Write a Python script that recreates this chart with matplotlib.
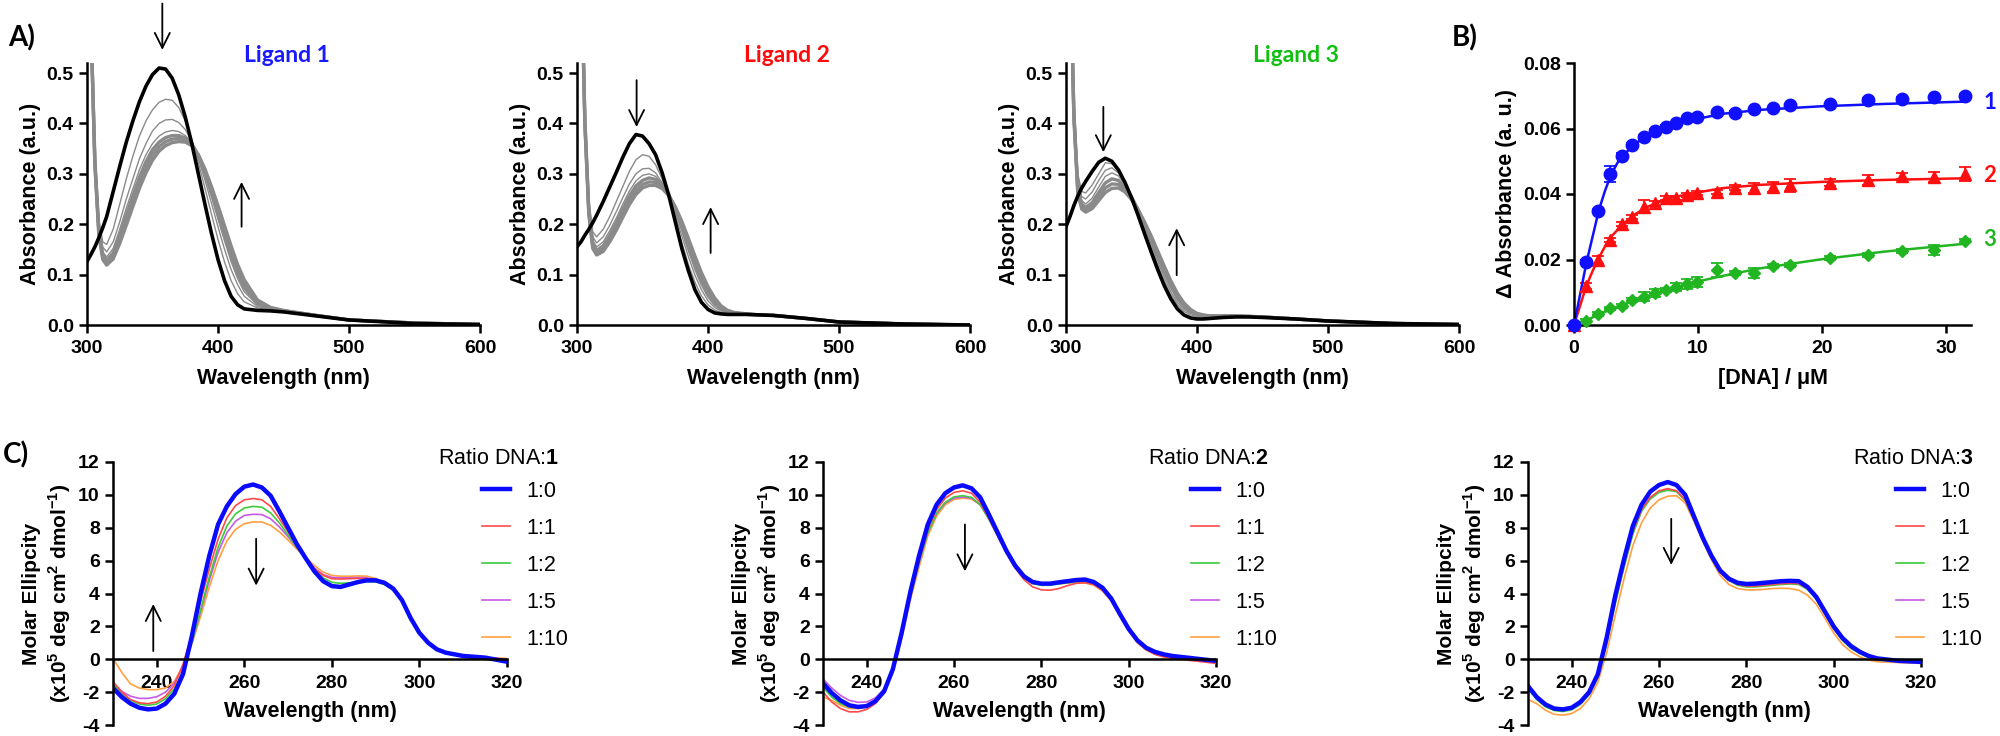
import matplotlib
matplotlib.use('Agg')
import matplotlib.pyplot as plt
from matplotlib.ticker import FormatStrFormatter

plt.rcParams['font.family'] = ['Liberation Sans', 'DejaVu Sans']
plt.rcParams['font.weight'] = 'bold'
plt.rcParams['axes.labelweight'] = 'bold'
plt.rcParams['axes.unicode_minus'] = False
plt.rcParams['mathtext.fontset'] = 'custom'
plt.rcParams['mathtext.rm'] = 'Liberation Sans'
plt.rcParams['mathtext.bf'] = 'Liberation Sans:bold'

# ---------------- data: UV-vis titrations (panel A) ----------------
wl_abs = [300, 303, 306, 309, 312, 315, 320, 325, 330, 335, 340, 345, 350, 355, 360, 365, 370,
          375, 380, 385, 390, 395, 400, 405, 410, 415, 420, 430, 440, 450, 475, 500, 550, 600]

abs1_free = [0.126, 0.14, 0.155, 0.173, 0.193, 0.215, 0.265, 0.315, 0.363, 0.405, 0.443, 0.474,
             0.497, 0.51, 0.508, 0.49, 0.457, 0.413, 0.36, 0.30, 0.24, 0.182, 0.13, 0.088, 0.057,
             0.04, 0.032, 0.029, 0.028, 0.026, 0.018, 0.01, 0.003, 0.001]
abs1_dna = [
    [0.95, 0.60, 0.34, 0.21, 0.165, 0.16, 0.19, 0.24, 0.29, 0.335, 0.375, 0.405, 0.427, 0.442, 0.448,
     0.446, 0.432, 0.405, 0.368, 0.322, 0.272, 0.22, 0.17, 0.125, 0.088, 0.062, 0.046, 0.034, 0.03,
     0.027, 0.019, 0.01, 0.004, 0.001],
    [0.95, 0.60, 0.34, 0.20, 0.155, 0.145, 0.165, 0.205, 0.25, 0.29, 0.33, 0.36, 0.385, 0.40, 0.407,
     0.408, 0.402, 0.388, 0.366, 0.33, 0.288, 0.242, 0.195, 0.15, 0.11, 0.08, 0.057, 0.037, 0.031,
     0.027, 0.019, 0.01, 0.004, 0.001],
    [0.95, 0.60, 0.33, 0.195, 0.145, 0.135, 0.152, 0.19, 0.232, 0.27, 0.308, 0.338, 0.36, 0.375, 0.383,
     0.386, 0.384, 0.376, 0.362, 0.334, 0.297, 0.255, 0.21, 0.167, 0.126, 0.092, 0.066, 0.04, 0.032,
     0.028, 0.019, 0.01, 0.004, 0.001],
    [0.95, 0.60, 0.33, 0.19, 0.14, 0.128, 0.143, 0.178, 0.218, 0.256, 0.293, 0.324, 0.348, 0.363, 0.372,
     0.376, 0.376, 0.371, 0.36, 0.336, 0.302, 0.262, 0.22, 0.178, 0.137, 0.102, 0.074, 0.043, 0.033,
     0.028, 0.019, 0.01, 0.004, 0.001],
    [0.95, 0.60, 0.32, 0.185, 0.135, 0.123, 0.137, 0.17, 0.208, 0.245, 0.282, 0.313, 0.338, 0.354, 0.364,
     0.369, 0.37, 0.367, 0.358, 0.337, 0.306, 0.268, 0.228, 0.187, 0.147, 0.111, 0.082, 0.047, 0.034,
     0.028, 0.019, 0.01, 0.004, 0.001],
    [0.95, 0.60, 0.32, 0.18, 0.13, 0.119, 0.131, 0.162, 0.198, 0.235, 0.271, 0.302, 0.327, 0.345, 0.356,
     0.362, 0.364, 0.363, 0.356, 0.338, 0.31, 0.275, 0.237, 0.197, 0.157, 0.12, 0.09, 0.05, 0.035,
     0.029, 0.019, 0.01, 0.004, 0.001],
]

abs2_free = [0.155, 0.165, 0.178, 0.19, 0.203, 0.218, 0.245, 0.274, 0.303, 0.333, 0.36, 0.378,
             0.375, 0.36, 0.338, 0.302, 0.258, 0.205, 0.152, 0.108, 0.07, 0.045, 0.031, 0.024, 0.022,
             0.021, 0.021, 0.021, 0.02, 0.019, 0.013, 0.006, 0.002, 0.0]
abs2_dna = [
    [0.95, 0.75, 0.42, 0.25, 0.185, 0.175, 0.19, 0.215, 0.245, 0.275, 0.305, 0.328, 0.338, 0.335, 0.318,
     0.29, 0.252, 0.208, 0.163, 0.12, 0.085, 0.058, 0.04, 0.03, 0.025, 0.023, 0.022, 0.021, 0.02,
     0.019, 0.013, 0.006, 0.002, 0.0],
    [0.95, 0.75, 0.42, 0.24, 0.175, 0.163, 0.175, 0.198, 0.225, 0.253, 0.28, 0.3, 0.31, 0.311, 0.302,
     0.282, 0.253, 0.217, 0.177, 0.136, 0.099, 0.07, 0.048, 0.035, 0.028, 0.024, 0.022, 0.021, 0.02,
     0.019, 0.013, 0.006, 0.002, 0.0],
    [0.95, 0.75, 0.41, 0.235, 0.168, 0.155, 0.165, 0.187, 0.212, 0.24, 0.266, 0.286, 0.297, 0.3, 0.295,
     0.28, 0.256, 0.224, 0.187, 0.147, 0.11, 0.079, 0.055, 0.039, 0.03, 0.025, 0.023, 0.021, 0.02,
     0.019, 0.013, 0.006, 0.002, 0.0],
    [0.95, 0.75, 0.41, 0.23, 0.162, 0.148, 0.157, 0.178, 0.203, 0.23, 0.256, 0.276, 0.287, 0.292, 0.289,
     0.278, 0.258, 0.229, 0.195, 0.157, 0.12, 0.088, 0.062, 0.044, 0.032, 0.026, 0.023, 0.021, 0.02,
     0.019, 0.013, 0.006, 0.002, 0.0],
    [0.95, 0.75, 0.40, 0.225, 0.156, 0.143, 0.151, 0.171, 0.195, 0.221, 0.247, 0.267, 0.279, 0.284, 0.283,
     0.275, 0.258, 0.233, 0.201, 0.165, 0.129, 0.096, 0.069, 0.049, 0.035, 0.027, 0.024, 0.021, 0.02,
     0.019, 0.013, 0.006, 0.002, 0.0],
    [0.95, 0.75, 0.40, 0.22, 0.152, 0.139, 0.146, 0.165, 0.188, 0.214, 0.239, 0.259, 0.272, 0.277, 0.277,
     0.271, 0.257, 0.235, 0.206, 0.172, 0.137, 0.104, 0.076, 0.054, 0.038, 0.029, 0.025, 0.022, 0.02,
     0.019, 0.013, 0.006, 0.002, 0.0],
]

abs3_free = [0.195, 0.215, 0.237, 0.256, 0.272, 0.285, 0.305, 0.323, 0.331, 0.325, 0.308, 0.283,
             0.253, 0.218, 0.181, 0.145, 0.11, 0.078, 0.052, 0.032, 0.02, 0.014, 0.012, 0.012, 0.013,
             0.014, 0.015, 0.016, 0.016, 0.015, 0.012, 0.008, 0.003, 0.001]
abs3_dna = [
    [0.95, 0.75, 0.45, 0.30, 0.265, 0.262, 0.278, 0.30, 0.322, 0.32, 0.305, 0.282, 0.254, 0.222, 0.188,
     0.153, 0.119, 0.087, 0.06, 0.04, 0.027, 0.02, 0.017, 0.016, 0.016, 0.016, 0.017, 0.017, 0.017,
     0.016, 0.012, 0.008, 0.003, 0.001],
    [0.95, 0.75, 0.44, 0.29, 0.255, 0.25, 0.264, 0.287, 0.307, 0.312, 0.302, 0.282, 0.256, 0.226, 0.194,
     0.16, 0.126, 0.094, 0.066, 0.045, 0.031, 0.023, 0.019, 0.017, 0.017, 0.017, 0.017, 0.017, 0.017,
     0.016, 0.012, 0.008, 0.003, 0.001],
    [0.95, 0.75, 0.43, 0.28, 0.247, 0.24, 0.252, 0.274, 0.295, 0.302, 0.296, 0.279, 0.256, 0.228, 0.198,
     0.166, 0.133, 0.101, 0.073, 0.05, 0.034, 0.025, 0.02, 0.018, 0.017, 0.017, 0.018, 0.018, 0.017,
     0.016, 0.012, 0.008, 0.003, 0.001],
    [0.95, 0.75, 0.42, 0.272, 0.24, 0.233, 0.243, 0.263, 0.282, 0.29, 0.287, 0.274, 0.254, 0.229, 0.201,
     0.17, 0.138, 0.107, 0.078, 0.055, 0.038, 0.027, 0.021, 0.018, 0.017, 0.017, 0.018, 0.018, 0.017,
     0.016, 0.012, 0.008, 0.003, 0.001],
    [0.95, 0.75, 0.42, 0.266, 0.235, 0.228, 0.236, 0.254, 0.272, 0.28, 0.279, 0.269, 0.252, 0.229, 0.203,
     0.174, 0.143, 0.112, 0.083, 0.059, 0.041, 0.029, 0.022, 0.019, 0.018, 0.018, 0.018, 0.018, 0.017,
     0.016, 0.012, 0.008, 0.003, 0.001],
    [0.95, 0.75, 0.41, 0.262, 0.23, 0.224, 0.231, 0.247, 0.263, 0.271, 0.272, 0.264, 0.249, 0.228, 0.204,
     0.177, 0.147, 0.117, 0.088, 0.063, 0.044, 0.031, 0.023, 0.02, 0.018, 0.018, 0.018, 0.018, 0.017,
     0.016, 0.012, 0.008, 0.003, 0.001],
]

# ---------------- data: binding curves (panel B) ----------------
dna = [0, 1.0, 1.9, 2.87, 3.84, 4.71, 5.65, 6.56, 7.39, 8.22, 9.09, 9.92, 11.56, 13.0, 14.5, 16.0,
       17.4, 20.6, 23.7, 26.4, 29.0, 31.5]
d1 = [0, 0.0193, 0.0349, 0.0461, 0.0517, 0.055, 0.0573, 0.0593, 0.0606, 0.0616, 0.0631, 0.0634,
      0.0649, 0.0648, 0.0659, 0.0662, 0.0672, 0.0675, 0.0687, 0.069, 0.0695, 0.070]
e1 = [0.0004, 0.0006, 0.0005, 0.0025, 0.0008, 0.0005, 0.0006, 0.0005, 0.0004, 0.0004, 0.0004,
      0.0004, 0.0005, 0.0004, 0.0004, 0.0005, 0.0004, 0.0004, 0.0005, 0.0005, 0.0005, 0.0005]
d2 = [0, 0.0119, 0.0198, 0.026, 0.0308, 0.0331, 0.0361, 0.0372, 0.0387, 0.0389, 0.0397, 0.0402,
      0.0407, 0.0419, 0.0419, 0.0422, 0.0427, 0.0435, 0.0443, 0.0455, 0.0453, 0.0461]
e2 = [0.0005, 0.0008, 0.0012, 0.0006, 0.0005, 0.0006, 0.002, 0.0008, 0.0006, 0.0006, 0.0005,
      0.0006, 0.0006, 0.0007, 0.0015, 0.0015, 0.002, 0.0012, 0.0015, 0.0008, 0.0015, 0.002]
d3 = [0, 0.0013, 0.0034, 0.0051, 0.0058, 0.0076, 0.0087, 0.0097, 0.0107, 0.0115, 0.0124, 0.0132,
      0.0168, 0.0158, 0.0158, 0.018, 0.0183, 0.0206, 0.0214, 0.0227, 0.0229, 0.0258]
e3 = [0.0003, 0.0004, 0.0005, 0.0005, 0.0005, 0.0006, 0.0015, 0.0012, 0.0006, 0.0012, 0.0015,
      0.0015, 0.002, 0.0006, 0.0015, 0.0006, 0.0005, 0.0006, 0.0006, 0.0006, 0.0015, 0.0006]

fit_x = [0, 0.5, 1, 1.5, 2, 2.5, 3, 3.5, 4, 5, 6, 7, 8, 10, 12, 15, 20, 25, 31.5]
fit1 = [0, 0.0095, 0.019, 0.027, 0.035, 0.041, 0.046, 0.0495, 0.052, 0.0555, 0.058, 0.0598, 0.0612,
        0.063, 0.0645, 0.0657, 0.0668, 0.0675, 0.0682]
fit2 = [0, 0.006, 0.012, 0.0165, 0.0205, 0.024, 0.027, 0.029, 0.031, 0.034, 0.0362, 0.0378, 0.039,
        0.0405, 0.0418, 0.0428, 0.0437, 0.0443, 0.0448]
fit3 = [0, 0.0007, 0.0015, 0.0023, 0.0032, 0.004, 0.0048, 0.0055, 0.0062, 0.0076, 0.0089, 0.0101,
        0.0112, 0.0133, 0.015, 0.0173, 0.0201, 0.0224, 0.0248]

# ---------------- data: CD spectra (panel C) ----------------
wl_cd = [230, 232, 234, 236, 238, 240, 242, 244, 246, 248,
         250, 252, 254, 256, 258, 260, 262, 264, 266, 268,
         270, 272, 274, 276, 278, 280, 282, 284, 286, 288,
         290, 292, 294, 296, 298, 300, 302, 304, 306, 308,
         310, 315, 320]
ratios = ['1:0', '1:1', '1:2', '1:5', '1:10']

cd1 = [
    [-1.75, -2.3, -2.7, -2.95, -3.05, -3.0, -2.7, -2.1, -0.9, 1.4,
     4.0, 6.3, 8.2, 9.3, 10.05, 10.5, 10.63, 10.45, 9.95, 9.0,
     8.0, 7.0, 6.15, 5.35, 4.75, 4.45, 4.4, 4.55, 4.7, 4.8,
     4.8, 4.65, 4.3, 3.6, 2.5, 1.6, 1.0, 0.6, 0.4, 0.3,
     0.2, 0.1, -0.15],
    [-1.35, -2.0, -2.45, -2.65, -2.7, -2.6, -2.25, -1.6, -0.3, 1.5,
     3.5, 5.5, 7.3, 8.6, 9.35, 9.7, 9.78, 9.7, 9.3, 8.55,
     7.75, 6.9, 6.15, 5.5, 5.1, 4.9, 4.88, 4.9, 4.92, 4.9,
     4.82, 4.62, 4.27, 3.6, 2.55, 1.65, 1.0, 0.6, 0.4, 0.3,
     0.2, 0.1, 0.0],
    [-1.5, -2.1, -2.5, -2.72, -2.8, -2.72, -2.4, -1.8, -0.7, 1.0,
     3.0, 5.0, 6.8, 8.1, 8.85, 9.2, 9.3, 9.25, 8.9, 8.3,
     7.55, 6.8, 6.1, 5.45, 4.95, 4.68, 4.62, 4.65, 4.7, 4.72,
     4.7, 4.55, 4.2, 3.55, 2.5, 1.6, 0.95, 0.55, 0.35, 0.25,
     0.15, 0.0, -0.1],
    [-1.45, -1.95, -2.25, -2.38, -2.38, -2.28, -2.0, -1.45, -0.5, 1.0,
     2.9, 4.8, 6.5, 7.7, 8.4, 8.75, 8.82, 8.8, 8.55, 8.05,
     7.45, 6.8, 6.15, 5.55, 5.15, 4.98, 4.95, 4.95, 4.97, 4.95,
     4.85, 4.62, 4.27, 3.6, 2.55, 1.65, 1.0, 0.6, 0.4, 0.3,
     0.2, 0.1, 0.0],
    [0.05, -0.8, -1.5, -1.75, -1.85, -1.85, -1.75, -1.35, -0.4, 0.9,
     2.6, 4.4, 6.0, 7.2, 7.9, 8.25, 8.35, 8.35, 8.15, 7.75,
     7.25, 6.7, 6.2, 5.7, 5.3, 5.1, 5.05, 5.05, 5.07, 5.05,
     4.92, 4.65, 4.27, 3.6, 2.55, 1.65, 1.0, 0.6, 0.4, 0.3,
     0.2, 0.1, 0.05],
]
cd2 = [
    [-1.45, -2.05, -2.5, -2.8, -2.9, -2.85, -2.55, -1.95, -0.6, 1.6,
     4.1, 6.3, 8.2, 9.4, 10.1, 10.45, 10.58, 10.4, 9.85, 8.8,
     7.7, 6.6, 5.7, 5.05, 4.7, 4.6, 4.6, 4.68, 4.75, 4.82,
     4.85, 4.7, 4.35, 3.7, 2.75, 1.85, 1.15, 0.7, 0.45, 0.3,
     0.2, 0.05, -0.1],
    [-2.0, -2.6, -3.0, -3.2, -3.2, -3.05, -2.7, -2.05, -0.75, 1.4,
     3.9, 6.0, 7.9, 9.1, 9.8, 10.15, 10.25, 10.1, 9.55, 8.55,
     7.5, 6.45, 5.55, 4.85, 4.4, 4.22, 4.2, 4.3, 4.48, 4.62,
     4.65, 4.55, 4.2, 3.6, 2.65, 1.75, 1.05, 0.6, 0.3, 0.15,
     0.05, -0.1, -0.25],
    [-1.7, -2.3, -2.7, -2.9, -2.95, -2.85, -2.55, -1.95, -0.7, 1.4,
     3.8, 5.9, 7.7, 8.9, 9.55, 9.88, 9.95, 9.85, 9.4, 8.5,
     7.5, 6.5, 5.6, 4.95, 4.6, 4.5, 4.5, 4.58, 4.65, 4.72,
     4.75, 4.62, 4.3, 3.65, 2.7, 1.8, 1.1, 0.65, 0.4, 0.25,
     0.15, 0.0, -0.15],
    [-1.2, -1.75, -2.2, -2.5, -2.62, -2.6, -2.35, -1.8, -0.6, 1.4,
     3.8, 5.9, 7.7, 8.85, 9.5, 9.8, 9.87, 9.8, 9.4, 8.55,
     7.55, 6.55, 5.65, 5.0, 4.68, 4.6, 4.6, 4.65, 4.7, 4.75,
     4.75, 4.62, 4.3, 3.65, 2.7, 1.8, 1.1, 0.65, 0.4, 0.25,
     0.15, 0.0, -0.1],
    [-2.3, -2.5, -2.8, -3.0, -3.0, -2.9, -2.6, -2.0, -0.8, 1.2,
     3.6, 5.6, 7.5, 8.7, 9.4, 9.72, 9.8, 9.75, 9.4, 8.6,
     7.65, 6.65, 5.75, 5.1, 4.72, 4.6, 4.58, 4.6, 4.63, 4.65,
     4.65, 4.5, 4.15, 3.55, 2.6, 1.7, 1.0, 0.55, 0.3, 0.15,
     0.05, -0.05, -0.15],
]
cd3 = [
    [-1.63, -2.3, -2.75, -3.0, -3.05, -2.95, -2.6, -2.0, -0.9, 1.3,
     3.9, 6.1, 8.1, 9.4, 10.2, 10.6, 10.78, 10.6, 10.0, 8.7,
     7.4, 6.3, 5.4, 4.9, 4.65, 4.58, 4.6, 4.65, 4.7, 4.75,
     4.77, 4.75, 4.4, 3.8, 2.9, 2.0, 1.3, 0.8, 0.45, 0.2,
     0.05, -0.1, -0.16],
    [-1.7, -2.35, -2.8, -3.02, -3.05, -2.95, -2.6, -2.0, -0.95, 1.1,
     3.6, 5.8, 7.8, 9.1, 9.85, 10.25, 10.38, 10.25, 9.7, 8.5,
     7.3, 6.2, 5.3, 4.8, 4.55, 4.45, 4.45, 4.5, 4.55, 4.6,
     4.62, 4.6, 4.3, 3.7, 2.8, 1.9, 1.2, 0.7, 0.4, 0.15,
     0.0, -0.1, -0.16],
    [-1.8, -2.45, -2.9, -3.12, -3.18, -3.08, -2.75, -2.15, -1.1, 0.9,
     3.4, 5.6, 7.6, 9.0, 9.75, 10.15, 10.28, 10.2, 9.65, 8.5,
     7.3, 6.2, 5.3, 4.8, 4.5, 4.4, 4.4, 4.45, 4.5, 4.55,
     4.58, 4.55, 4.25, 3.65, 2.75, 1.85, 1.15, 0.65, 0.35, 0.1,
     -0.05, -0.12, -0.18],
    [-1.75, -2.4, -2.85, -3.05, -3.08, -2.98, -2.65, -2.05, -1.0, 1.0,
     3.5, 5.7, 7.7, 9.05, 9.8, 10.2, 10.33, 10.25, 9.7, 8.5,
     7.3, 6.2, 5.3, 4.8, 4.55, 4.45, 4.45, 4.5, 4.55, 4.6,
     4.62, 4.6, 4.3, 3.7, 2.8, 1.9, 1.2, 0.7, 0.4, 0.15,
     0.0, -0.1, -0.16],
    [-2.45, -2.7, -3.1, -3.35, -3.4, -3.3, -3.0, -2.4, -1.4, 0.4,
     2.7, 4.9, 6.9, 8.3, 9.2, 9.7, 9.92, 9.95, 9.5, 8.4,
     7.2, 6.05, 5.1, 4.55, 4.3, 4.22, 4.22, 4.25, 4.3, 4.32,
     4.3, 4.2, 3.9, 3.35, 2.5, 1.6, 0.9, 0.45, 0.15, -0.05,
     -0.15, -0.2, -0.25],
]

# ---------------- figure ----------------
W, H = 2000, 736
fig = plt.figure(figsize=(20, 7.36), dpi=100)


def px_axes(left, top, right, bottom):
    return fig.add_axes([left / W, 1 - bottom / H, (right - left) / W, (bottom - top) / H])


def style(ax):
    for s in ['top', 'right']:
        ax.spines[s].set_visible(False)
    for s in ['left', 'bottom']:
        ax.spines[s].set_linewidth(1.8)
    ax.tick_params(direction='out', length=6, width=1.8, labelsize=14)
    ax.tick_params(axis='x', pad=4.5)
    ax.tick_params(axis='y', pad=3.5)


def arrow(ax, x, y0, y1):
    ax.annotate('', xy=(x, y1), xytext=(x, y0), annotation_clip=False,
                arrowprops=dict(arrowstyle='->,head_length=0.6,head_width=0.3', lw=1.3,
                                color='black', shrinkA=0, shrinkB=0, mutation_scale=18))


def abs_panel(ax, free, titr, arrows):
    for i, g in enumerate(titr):
        ax.plot(wl_abs, g, color='#8a8a8a', lw=1.0 if i < 3 else 2.4)
    ax.plot(wl_abs, free, color='black', lw=2.6)
    ax.set_xlim(300, 600)
    ax.set_ylim(0, 0.52)
    ax.set_xticks([300, 400, 500, 600])
    ax.set_yticks([0, 0.1, 0.2, 0.3, 0.4, 0.5])
    ax.yaxis.set_major_formatter(FormatStrFormatter('%.1f'))
    ax.set_xlabel('Wavelength (nm)', fontsize=15.5, labelpad=8)
    ax.set_ylabel('Absorbance (a.u.)', fontsize=15.5)
    style(ax)
    for x, y0, y1 in arrows:
        arrow(ax, x, y0, y1)


axA1 = px_axes(87, 63, 480, 325)
abs_panel(axA1, abs1_free, abs1_dna, [(357.5, 0.638, 0.546), (418, 0.195, 0.284)])
axA2 = px_axes(577, 63, 970, 325)
abs_panel(axA2, abs2_free, abs2_dna, [(345.5, 0.486, 0.393), (402, 0.143, 0.234)])
axA3 = px_axes(1066, 63, 1459, 325)
abs_panel(axA3, abs3_free, abs3_dna, [(328.5, 0.433, 0.343), (384.5, 0.099, 0.192)])

lig_font = ['Lato', 'DejaVu Sans']
for xc, txt, col in [(287, 'Ligand 1', '#1a1aff'), (787, 'Ligand 2', '#ff0a0a'),
                     (1296, 'Ligand 3', '#11c011')]:
    fig.text(xc / W, 1 - 55 / H, txt, color=col, fontsize=16.5, fontweight='bold',
             family=lig_font, ha='center', va='center')

# panel B
blue, red, green = '#1010ff', '#ff1010', '#22b522'
axB = px_axes(1574, 63, 1971, 325)
for y, e, f, col, mk, ms in [(d3, e3, fit3, green, 'D', 6.5), (d2, e2, fit2, red, '^', 9),
                             (d1, e1, fit1, blue, 'o', 9)]:
    axB.plot(fit_x, f, color=col, lw=1.8, clip_on=False)
    axB.errorbar(dna, y, yerr=e, fmt='none', ecolor=col, elinewidth=1.3, capsize=4, capthick=1.3)
    axB.plot(dna, y, linestyle='none', marker=mk, ms=ms, color=col, clip_on=False, zorder=4)
axB.set_xlim(0, 32)
axB.set_ylim(0, 0.08)
axB.set_xticks([0, 10, 20, 30])
axB.set_yticks([0, 0.02, 0.04, 0.06, 0.08])
axB.yaxis.set_major_formatter(FormatStrFormatter('%.2f'))
axB.set_xlabel('[DNA] / μM', fontsize=15.5, labelpad=8)
axB.set_ylabel('Δ Absorbance (a. u.)', fontsize=15.5)
style(axB)
for txt, yv, col in [('1', 0.068, blue), ('2', 0.0458, red), ('3', 0.026, green)]:
    axB.text(33.5, yv, txt, color=col, fontsize=16, fontweight='bold', family=lig_font,
             ha='center', va='center', clip_on=False)

# panel C
cd_colors = ['#0a0aff', '#ff4a4a', '#3ccc3c', '#c85ae8', '#ffa040']
cd_widths = [3.2, 1.2, 1.2, 1.2, 1.2]


def cd_panel(ax, curves, num, arrows):
    lines = [None] * 5
    for i in [4, 3, 2, 1, 0]:
        lines[i], = ax.plot(wl_cd, curves[i], color=cd_colors[i], lw=cd_widths[i], label=ratios[i])
    ax.set_xlim(230, 320)
    ax.set_ylim(-4, 12)
    ax.spines['bottom'].set_position(('data', 0))
    ax.set_xticks([240, 260, 280, 300, 320])
    ax.set_yticks(list(range(-4, 13, 2)))
    style(ax)
    ax.tick_params(axis='x', pad=5)
    ax.set_xlabel('Wavelength (nm)', fontsize=15.5, labelpad=6.5)
    ax.set_ylabel('Molar Ellipcity\n(x10$^{\\mathbf{5}}$ deg cm$^{\\mathbf{2}}$ dmol$^{\\mathbf{-1}}$)',
                  fontsize=15, linespacing=1.25)
    ax.legend(handles=lines, loc='upper left', bbox_to_anchor=(0.936, 0.928), frameon=False,
              prop={'size': 15.5, 'weight': 'normal'}, handlelength=1.33, handletextpad=0.73,
              labelspacing=0.74, borderpad=0, borderaxespad=0)
    ax.text(0.826, 1.014, 'Ratio DNA:$\\mathbf{%s}$' % num, transform=ax.transAxes, ha='left',
            va='center', fontsize=15.5, fontweight='normal')
    for x, y0, y1 in arrows:
        arrow(ax, x, y0, y1)


axC1 = px_axes(113, 462, 507, 725)
cd_panel(axC1, cd1, '1', [(239.2, 0.5, 3.36), (262.7, 7.33, 4.48)])
axC2 = px_axes(823, 462, 1216, 725)
cd_panel(axC2, cd2, '2', [(262.5, 8.2, 5.35)])
axC3 = px_axes(1528, 462, 1921, 725)
cd_panel(axC3, cd3, '3', [(262.8, 8.54, 5.74)])

for x, y, txt in [(8, 38, 'A)'), (1452, 38, 'B)'), (3, 455, 'C)')]:
    fig.text(x / W, 1 - y / H, txt, fontsize=20, fontweight='bold', family=lig_font,
             ha='left', va='center')

fig.savefig('out.png', dpi=100)
